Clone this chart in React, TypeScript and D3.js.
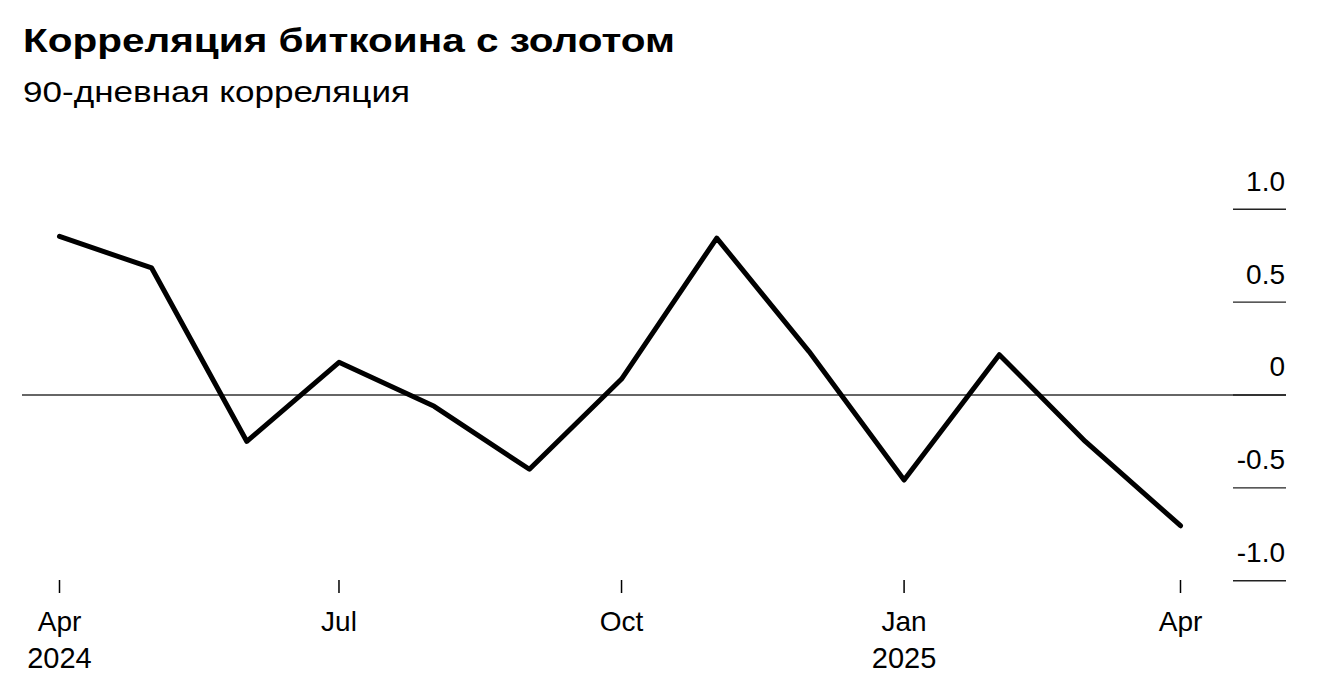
import React from "react";
import * as d3 from "d3";

const TITLE = "Корреляция биткоина с золотом";
const SUBTITLE = "90-дневная корреляция";

const dates = [
  "2024-04-01", "2024-05-01", "2024-06-01", "2024-07-01", "2024-08-01",
  "2024-09-01", "2024-10-01", "2024-11-01", "2024-12-01", "2025-01-01",
  "2025-02-01", "2025-03-01", "2025-04-01",
];
const values = [0.854, 0.684, -0.25, 0.176, -0.061, -0.40, 0.086, 0.845, 0.235, -0.458, 0.217, -0.25, -0.704];

const yTicks = [1.0, 0.5, 0, -0.5, -1.0];
const yTickLabels = ["1.0", "0.5", "0", "-0.5", "-1.0"];

const xTickDates = ["2024-04-01", "2024-07-01", "2024-10-01", "2025-01-01", "2025-04-01"];
const xTickMonths = ["Apr", "Jul", "Oct", "Jan", "Apr"];
const xTickYears = ["2024", "", "", "2025", ""];

const W = 1321;
const H = 698;
const FONT = "'Liberation Sans', Arial, Helvetica, sans-serif";

export default function App() {
  const parse = d3.utcParse("%Y-%m-%d");
  const data = dates.map((d, i) => ({ date: parse(d) as Date, value: values[i] }));

  const x = d3
    .scaleUtc()
    .domain([parse("2024-04-01") as Date, parse("2025-04-01") as Date])
    .range([59.5, 1180.5]);
  const y = d3.scaleLinear().domain([-1, 1]).range([580.7, 209.3]);

  const line = d3
    .line<{ date: Date; value: number }>()
    .x((d) => x(d.date))
    .y((d) => y(d.value));

  const axisRight = 1286;
  const axisLeft = 1233;

  return (
    <svg
      width={W}
      height={H}
      viewBox={`0 0 ${W} ${H}`}
      style={{ position: "absolute", left: 0, top: 0, background: "#fff" }}
      fontFamily={FONT}
    >
      <rect x={0} y={0} width={W} height={H} fill="#fff" />
      <text
        x={23}
        y={52}
        fontSize={33}
        fontWeight="bold"
        fill="#000"
        textLength={652}
        lengthAdjust="spacingAndGlyphs"
      >
        {TITLE}
      </text>
      <text
        x={23}
        y={101.5}
        fontSize={30}
        fill="#000"
        textLength={387}
        lengthAdjust="spacingAndGlyphs"
      >
        {SUBTITLE}
      </text>

      {/* zero line */}
      <line x1={22} x2={axisRight} y1={y(0)} y2={y(0)} stroke="#333" strokeWidth={1.5} />

      {/* y axis ticks */}
      {yTicks.map((t, i) => (
        <g key={"y" + i}>
          <line x1={axisLeft} x2={axisRight} y1={y(t)} y2={y(t)} stroke="#222" strokeWidth={1.4} />
          <text x={axisRight - 1} y={y(t) - 18.6} fontSize={28} textAnchor="end" fill="#000">
            {yTickLabels[i]}
          </text>
        </g>
      ))}

      {/* x axis ticks */}
      {xTickDates.map((d, i) => {
        const xx = x(parse(d) as Date);
        return (
          <g key={"x" + i}>
            <line x1={xx} x2={xx} y1={580} y2={593} stroke="#000" strokeWidth={1.5} />
            <text x={xx} y={631} fontSize={28} textAnchor="middle" fill="#000">
              {xTickMonths[i]}
            </text>
            {xTickYears[i] && (
              <text x={xx} y={667.5} fontSize={29} textAnchor="middle" fill="#000">
                {xTickYears[i]}
              </text>
            )}
          </g>
        );
      })}

      <path
        d={line(data) || ""}
        fill="none"
        stroke="#000"
        strokeWidth={5}
        strokeLinejoin="round"
        strokeLinecap="round"
      />
    </svg>
  );
}
